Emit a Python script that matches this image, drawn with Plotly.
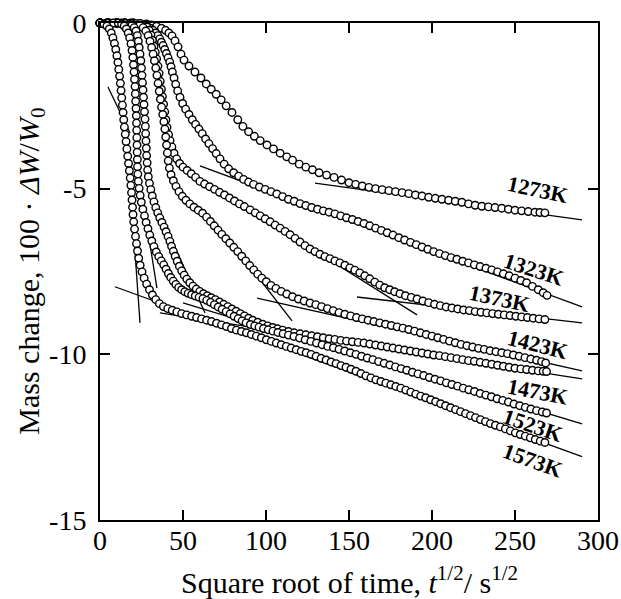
import plotly.graph_objects as go

temps = ["1273K", "1323K", "1373K", "1423K", "1473K", "1523K", "1573K"]

x_1273 = [0, 5, 10, 15, 20, 24, 28, 31, 34, 37, 39.5, 41.5, 43.4, 45.2, 47, 48.8, 50.6, 53.6, 57.2, 60.8, 64, 67, 70, 73, 76, 79.5, 83, 86.1, 89.5, 93, 96.5, 100.6, 104.5, 108.5, 112.5, 116, 120, 124, 128, 132, 136.5, 141, 145.5, 150, 154, 158, 162, 166, 170, 174, 178, 182, 186, 190, 194, 198, 202, 206, 210, 214, 218, 222, 226, 230, 234, 238, 242, 246, 250, 254, 258, 262, 265, 268]
y_1273 = [0, 0, 0, 0, 0, -0.01, -0.03, -0.06, -0.10, -0.16, -0.22, -0.30, -0.39, -0.54, -0.72, -0.94, -1.12, -1.30, -1.48, -1.66, -1.84, -2.0, -2.15, -2.32, -2.50, -2.70, -2.92, -3.12, -3.28, -3.42, -3.55, -3.68, -3.80, -3.93, -4.04, -4.14, -4.26, -4.35, -4.43, -4.52, -4.59, -4.66, -4.74, -4.82, -4.87, -4.92, -4.96, -5.0, -5.03, -5.06, -5.09, -5.12, -5.15, -5.19, -5.22, -5.26, -5.29, -5.32, -5.35, -5.38, -5.41, -5.46, -5.50, -5.53, -5.55, -5.57, -5.59, -5.62, -5.65, -5.67, -5.69, -5.71, -5.72, -5.73]

x_1323 = [0, 5, 10, 15, 19, 23, 26, 28.5, 30.5, 32, 33.5, 34.8, 36, 37, 38, 39, 40, 41, 42, 42.8, 43.6, 44.6, 45.6, 46.8, 48.2, 49.8, 51.6, 53.6, 55.6, 57.6, 59.6, 61.6, 63.6, 65.6, 67.8, 70, 72.3, 74.8, 77.5, 80.5, 83.5, 86.5, 89.5, 92.5, 96, 99.5, 103, 106.5, 110, 113.5, 117, 120.5, 124, 127.5, 131, 134.5, 138, 141.5, 145, 148.5, 152, 155.5, 159, 162.5, 166, 169.5, 173, 176.5, 180, 183.5, 187, 190.5, 194, 197.5, 201, 204.5, 208, 211.5, 215, 218.5, 222, 225.5, 229, 232.5, 236, 239.5, 243, 246.5, 250, 253.5, 257, 260.5, 264, 267, 269.3]
y_1323 = [0, 0, 0, 0, -0.01, -0.04, -0.07, -0.11, -0.16, -0.22, -0.30, -0.38, -0.48, -0.58, -0.68, -0.80, -0.92, -1.05, -1.18, -1.32, -1.48, -1.66, -1.85, -2.05, -2.24, -2.43, -2.60, -2.76, -2.92, -3.06, -3.20, -3.34, -3.50, -3.64, -3.79, -3.94, -4.10, -4.26, -4.40, -4.52, -4.62, -4.72, -4.80, -4.87, -4.95, -5.02, -5.09, -5.16, -5.24, -5.32, -5.38, -5.45, -5.51, -5.57, -5.62, -5.67, -5.71, -5.76, -5.82, -5.88, -5.93, -5.99, -6.05, -6.12, -6.19, -6.26, -6.33, -6.40, -6.48, -6.55, -6.62, -6.69, -6.76, -6.83, -6.90, -6.96, -7.02, -7.08, -7.13, -7.19, -7.24, -7.30, -7.35, -7.40, -7.45, -7.51, -7.57, -7.63, -7.70, -7.77, -7.84, -7.95, -8.05, -8.14, -8.22]

x_1373 = [0, 5, 10, 15, 20, 24, 26.5, 28.3, 29.6, 30.7, 31.6, 32.5, 33.3, 34.1, 34.9, 35.6, 36.3, 37, 37.6, 38.3, 39, 39.7, 40.4, 41.3, 42.2, 43.3, 44.6, 46.2, 48, 50, 52.5, 55, 57.6, 60.2, 63, 66, 69, 72, 75, 78, 81, 84, 87, 90.4, 93.5, 96.5, 99.5, 102.5, 105.5, 108.5, 111.5, 114.5, 117.5, 120.5, 123.5, 126.5, 129.5, 132.5, 135.5, 138.5, 141.5, 144.5, 147.5, 150.5, 153.5, 156.5, 159.5, 162.5, 165.5, 168.5, 171.5, 174.5, 177.5, 180.7, 184, 187.5, 191, 194.5, 198, 201.5, 205, 208.5, 212, 215.5, 219, 222.5, 226, 229.5, 233, 236.5, 240, 243.5, 247, 250.5, 254, 257.5, 261, 264.5, 268]
y_1373 = [0, 0, 0, 0, 0, -0.01, -0.05, -0.12, -0.22, -0.36, -0.52, -0.70, -0.88, -1.08, -1.30, -1.52, -1.76, -2.0, -2.22, -2.45, -2.68, -2.92, -3.15, -3.37, -3.55, -3.74, -3.93, -4.10, -4.24, -4.35, -4.45, -4.55, -4.66, -4.78, -4.86, -4.94, -5.02, -5.11, -5.19, -5.28, -5.37, -5.46, -5.54, -5.64, -5.73, -5.82, -5.91, -6.0, -6.10, -6.19, -6.29, -6.39, -6.50, -6.61, -6.72, -6.82, -6.90, -6.98, -7.05, -7.11, -7.18, -7.24, -7.31, -7.39, -7.46, -7.54, -7.63, -7.72, -7.82, -7.91, -7.99, -8.05, -8.11, -8.17, -8.23, -8.28, -8.33, -8.39, -8.44, -8.49, -8.53, -8.57, -8.60, -8.63, -8.66, -8.68, -8.71, -8.73, -8.75, -8.77, -8.79, -8.81, -8.83, -8.85, -8.87, -8.89, -8.91, -8.93, -8.95]

x_1423 = [0, 5, 10, 15, 18.5, 21.5, 24, 26, 27.6, 29, 30.1, 31.1, 32, 32.8, 33.6, 34.3, 35, 35.7, 36.4, 37.1, 37.8, 38.5, 39.1, 39.6, 40.1, 40.6, 41.1, 41.8, 42.8, 44.2, 45.8, 47.6, 49.6, 51.8, 54.1, 56.6, 59.2, 61.8, 64.2, 66.5, 68.8, 71.1, 73.4, 75.8, 78.2, 80.6, 83, 85.4, 87.8, 90.2, 92.6, 95, 97.5, 100.2, 103, 106, 109.2, 112.5, 116, 119.5, 123, 126.5, 130, 133.5, 137, 140.5, 144, 147.5, 151, 154.5, 158, 161.5, 165, 168.5, 172, 175.5, 179, 182.5, 186, 189.5, 193, 196.5, 200, 203.5, 207, 210.5, 214, 217.5, 221, 224.5, 228, 231.5, 235, 238.5, 242, 245.5, 249, 252.5, 256, 259.5, 263, 266, 268.5]
y_1423 = [0, 0, 0, 0, 0, -0.02, -0.07, -0.14, -0.24, -0.38, -0.55, -0.74, -0.94, -1.14, -1.36, -1.58, -1.82, -2.06, -2.30, -2.54, -2.76, -2.98, -3.20, -3.44, -3.68, -3.92, -4.16, -4.38, -4.58, -4.76, -4.93, -5.09, -5.23, -5.35, -5.46, -5.56, -5.65, -5.74, -5.86, -5.99, -6.12, -6.25, -6.38, -6.51, -6.64, -6.77, -6.90, -7.04, -7.18, -7.32, -7.45, -7.58, -7.70, -7.81, -7.92, -8.01, -8.10, -8.18, -8.26, -8.33, -8.39, -8.45, -8.50, -8.56, -8.62, -8.68, -8.74, -8.79, -8.84, -8.89, -8.93, -8.97, -9.01, -9.05, -9.09, -9.13, -9.17, -9.21, -9.25, -9.30, -9.35, -9.40, -9.45, -9.50, -9.55, -9.60, -9.65, -9.70, -9.74, -9.78, -9.82, -9.85, -9.89, -9.92, -9.95, -9.98, -10.02, -10.06, -10.10, -10.14, -10.18, -10.22, -10.26]

x_1473 = [0, 5, 10, 13, 15.5, 17.5, 19.3, 20.6, 21.7, 22.5, 23.1, 23.6, 24.1, 24.6, 25, 25.3, 25.6, 25.9, 26.2, 26.5, 26.8, 27.1, 27.3, 27.5, 27.7, 27.9, 28.1, 28.4, 28.7, 29.1, 29.8, 30.6, 31.5, 32.5, 33.6, 34.8, 36, 37.3, 38.6, 39.8, 41, 42.1, 43.1, 44.2, 45.3, 46.5, 47.8, 49.2, 50.7, 52.3, 54.1, 56, 58, 60.1, 62.3, 64.6, 67, 69.5, 72, 74.5, 77, 79.5, 82, 84.5, 87, 89.5, 92, 95, 98, 101, 104, 107, 110, 113.5, 117, 120.5, 124, 127.5, 131, 134.5, 138, 141.5, 145, 148.5, 152, 155.5, 159, 162.5, 166, 169.5, 173, 176.5, 180, 183.5, 187, 190.5, 194, 197.5, 201, 204.5, 208, 211.5, 215, 218.5, 222, 225.5, 229, 232.5, 236, 239.5, 243, 246.5, 250, 253.5, 257, 260.5, 264, 267, 269]
y_1473 = [0, 0, 0, 0, -0.01, -0.03, -0.07, -0.14, -0.24, -0.38, -0.55, -0.74, -0.94, -1.14, -1.36, -1.58, -1.80, -2.02, -2.24, -2.46, -2.68, -2.90, -3.12, -3.34, -3.56, -3.78, -4.0, -4.22, -4.44, -4.64, -4.84, -5.03, -5.22, -5.40, -5.57, -5.73, -5.88, -6.02, -6.16, -6.30, -6.44, -6.59, -6.74, -6.89, -7.04, -7.19, -7.34, -7.48, -7.61, -7.73, -7.84, -7.94, -8.03, -8.10, -8.17, -8.23, -8.29, -8.35, -8.42, -8.49, -8.56, -8.63, -8.70, -8.77, -8.84, -8.91, -8.97, -9.03, -9.09, -9.14, -9.19, -9.23, -9.27, -9.31, -9.35, -9.38, -9.41, -9.44, -9.47, -9.50, -9.53, -9.55, -9.58, -9.60, -9.62, -9.64, -9.66, -9.69, -9.72, -9.75, -9.78, -9.81, -9.84, -9.87, -9.90, -9.93, -9.96, -9.99, -10.02, -10.04, -10.07, -10.10, -10.13, -10.16, -10.19, -10.21, -10.24, -10.27, -10.30, -10.33, -10.36, -10.39, -10.42, -10.44, -10.46, -10.48, -10.50, -10.51, -10.52]

x_1523 = [0, 4, 8, 11, 13, 14.6, 15.9, 17, 17.9, 18.7, 19.3, 19.8, 20.2, 20.5, 20.8, 21.1, 21.3, 21.5, 21.7, 21.9, 22, 22.1, 22.2, 22.3, 22.4, 22.5, 22.6, 22.8, 23.1, 23.6, 24.2, 24.9, 25.8, 26.8, 27.8, 28.9, 30, 31.2, 32.5, 33.9, 35.4, 36.9, 38.4, 39.8, 41.2, 42.6, 44.1, 45.7, 47.4, 49.2, 51.1, 53.1, 55.2, 57.4, 59.7, 62, 64.3, 66.6, 68.9, 71.2, 73.6, 76, 78.4, 80.8, 83.2, 85.6, 88, 90.6, 93.2, 95.8, 98.5, 101.3, 104.2, 107.2, 110.3, 113.5, 116.8, 120.2, 123.6, 127, 130.4, 133.8, 137.2, 140.6, 144, 147.4, 150.8, 154.2, 157.6, 161, 164.4, 167.8, 171.2, 174.6, 178, 181.4, 184.8, 188.2, 191.6, 195, 198.4, 201.8, 205.2, 208.6, 212, 215.4, 218.8, 222.2, 225.6, 229, 232.4, 235.8, 239.2, 242.6, 246, 249.4, 252.8, 256.2, 259.6, 263, 266.4, 269]
y_1523 = [0, 0, 0, 0, -0.03, -0.09, -0.18, -0.30, -0.45, -0.63, -0.83, -1.04, -1.26, -1.48, -1.70, -1.92, -2.14, -2.36, -2.58, -2.80, -3.02, -3.24, -3.46, -3.68, -3.90, -4.12, -4.34, -4.56, -4.78, -4.99, -5.20, -5.41, -5.62, -5.82, -6.02, -6.21, -6.40, -6.58, -6.75, -6.91, -7.05, -7.18, -7.30, -7.43, -7.56, -7.68, -7.79, -7.89, -7.98, -8.05, -8.11, -8.16, -8.20, -8.24, -8.28, -8.32, -8.37, -8.43, -8.50, -8.57, -8.64, -8.71, -8.78, -8.85, -8.92, -8.99, -9.05, -9.10, -9.14, -9.18, -9.22, -9.26, -9.30, -9.34, -9.38, -9.42, -9.46, -9.51, -9.56, -9.61, -9.66, -9.71, -9.76, -9.80, -9.85, -9.90, -9.95, -10.0, -10.06, -10.11, -10.16, -10.22, -10.27, -10.32, -10.38, -10.43, -10.48, -10.54, -10.59, -10.64, -10.70, -10.75, -10.80, -10.86, -10.91, -10.96, -11.02, -11.07, -11.12, -11.18, -11.23, -11.28, -11.34, -11.39, -11.44, -11.50, -11.55, -11.60, -11.65, -11.70, -11.74, -11.77]

x_1573 = [0, 2.4, 4.2, 5.6, 6.8, 7.8, 8.7, 9.5, 10.2, 10.8, 11.3, 11.8, 12.3, 12.7, 13.1, 13.5, 13.9, 14.3, 14.7, 15.2, 15.7, 16.2, 16.7, 17.2, 17.7, 18.2, 18.6, 19, 19.3, 19.6, 19.9, 20.3, 20.8, 21.4, 22, 22.6, 23.3, 24.2, 25.3, 26.6, 28.1, 29.8, 31.6, 33.6, 35.8, 38.2, 40.8, 43.5, 46.3, 49.2, 52.2, 55.2, 58.2, 61.2, 64.2, 67.2, 70.2, 73.2, 76.2, 79.2, 82.2, 85.2, 88.2, 91.2, 94.2, 97.2, 100.2, 103.2, 106.2, 109.2, 112.2, 115.2, 118.2, 121.2, 124.2, 127.2, 130.2, 133.2, 136.2, 139.2, 142.2, 145.2, 148.2, 151.2, 154.2, 157.2, 160.2, 163.2, 166.2, 169.2, 172.2, 175.2, 178.2, 181.2, 184.2, 187.2, 190.2, 193.2, 196.2, 199.2, 202.2, 205.2, 208.2, 211.2, 214.2, 217.2, 220.2, 223.2, 226.2, 229.2, 232.2, 235.2, 238.2, 241.2, 244.2, 247.2, 250.2, 253.2, 256.2, 259.2, 262.2, 265.2, 268]
y_1573 = [0, -0.03, -0.09, -0.18, -0.30, -0.45, -0.62, -0.80, -0.99, -1.19, -1.40, -1.61, -1.82, -2.04, -2.26, -2.48, -2.70, -2.92, -3.14, -3.36, -3.58, -3.80, -4.02, -4.24, -4.46, -4.68, -4.90, -5.12, -5.34, -5.56, -5.78, -6.0, -6.22, -6.44, -6.66, -6.88, -7.10, -7.31, -7.51, -7.70, -7.88, -8.05, -8.21, -8.35, -8.47, -8.56, -8.62, -8.67, -8.72, -8.77, -8.81, -8.85, -8.89, -8.93, -8.97, -9.01, -9.06, -9.11, -9.16, -9.22, -9.27, -9.31, -9.35, -9.40, -9.45, -9.50, -9.56, -9.61, -9.66, -9.71, -9.76, -9.81, -9.86, -9.91, -9.95, -10.0, -10.06, -10.12, -10.17, -10.23, -10.28, -10.34, -10.39, -10.45, -10.51, -10.58, -10.65, -10.71, -10.77, -10.82, -10.87, -10.92, -10.97, -11.02, -11.08, -11.14, -11.20, -11.26, -11.31, -11.37, -11.43, -11.49, -11.55, -11.61, -11.67, -11.73, -11.79, -11.85, -11.91, -11.97, -12.03, -12.09, -12.14, -12.19, -12.25, -12.31, -12.37, -12.42, -12.47, -12.52, -12.57, -12.62, -12.66]

series_x = [x_1273, x_1323, x_1373, x_1423, x_1473, x_1523, x_1573]
series_y = [y_1273, y_1323, y_1373, y_1423, y_1473, y_1523, y_1573]

# straight fitted lines: (x0, y0, x1, y1)
fit_lines = [
    (129.5, -4.83, 290.4, -5.94),
    (60.2, -4.31, 290.4, -8.57),
    (45.2, -4.22, 191.0, -8.81),
    (154.8, -8.27, 290.4, -9.05),
    (69.3, -6.00, 115.7, -8.99),
    (94.6, -8.30, 290.4, -10.50),
    (36.1, -5.79, 63.3, -8.75),
    (36.1, -8.75, 290.4, -10.74),
    (21.1, -3.83, 34.3, -8.00),
    (50.0, -8.45, 290.4, -12.10),
    (16.3, -3.53, 24.1, -9.05),
    (9.0, -7.96, 290.4, -13.09),
    (4.8, -1.93, 18.1, -3.32),
]

label_x = [263.3, 261.4, 240.4, 263.3, 263.3, 260.8, 260.8]
label_y = [-5.04, -7.45, -8.30, -9.71, -11.13, -12.16, -13.21]
label_angle = [12, 18, 12, 14, 11, 19, 20]

x_ticks = [0, 50, 100, 150, 200, 250, 300]
y_ticks = [0, -5, -10, -15]
y_ticktext = ["0", "-5", "-10", "-15"]

SERIF = "Liberation Serif, Times New Roman, serif"

fig = go.Figure()
for x0, y0, x1, y1 in fit_lines:
    fig.add_trace(go.Scatter(x=[x0, x1], y=[y0, y1], mode="lines",
                             line=dict(color="black", width=1.3),
                             showlegend=False, hoverinfo="skip"))
for name, xs, ys in zip(temps, series_x, series_y):
    fig.add_trace(go.Scatter(x=xs, y=ys, mode="markers", name=name,
                             marker=dict(symbol="circle", size=7.5, color="white",
                                         line=dict(color="black", width=1.4)),
                             cliponaxis=False, showlegend=False))

annotations = []
for t, lx, ly, ang in zip(temps, label_x, label_y, label_angle):
    annotations.append(dict(x=lx, y=ly, xref="x", yref="y", text="<b>%s</b>" % t,
                            showarrow=False, textangle=ang,
                            font=dict(family=SERIF, size=22, color="black")))
annotations.append(dict(x=0.5, y=-0.12, xref="paper", yref="paper",
                        text="Square root of time, <i>t</i><sup>1/2</sup>/ s<sup>1/2</sup>",
                        showarrow=False, xanchor="center", yanchor="middle",
                        font=dict(family=SERIF, size=30, color="black")))
annotations.append(dict(x=-0.14, y=0.5, xref="paper", yref="paper",
                        text="Mass change, 100 · <i>ΔW</i>/<i>W</i><sub>0</sub>",
                        showarrow=False, xanchor="center", yanchor="middle", textangle=-90,
                        font=dict(family=SERIF, size=30, color="black")))

axis_common = dict(showgrid=False, zeroline=False, showline=True, linecolor="black",
                   linewidth=2, mirror="ticks", ticks="inside", ticklen=10,
                   tickwidth=1.5, tickcolor="black", automargin=False,
                   tickfont=dict(family=SERIF, size=28, color="black"))

fig.update_layout(
    width=621, height=599,
    margin=dict(l=100, r=23, t=23, b=79),
    plot_bgcolor="white", paper_bgcolor="white",
    xaxis=dict(range=[0, 300], tickvals=x_ticks, ticklabelstandoff=-6, **axis_common),
    yaxis=dict(range=[-15, 0], tickvals=y_ticks, ticktext=y_ticktext,
               ticklabelstandoff=6, **axis_common),
    annotations=annotations,
    showlegend=False,
)

fig.write_html("out.html")
